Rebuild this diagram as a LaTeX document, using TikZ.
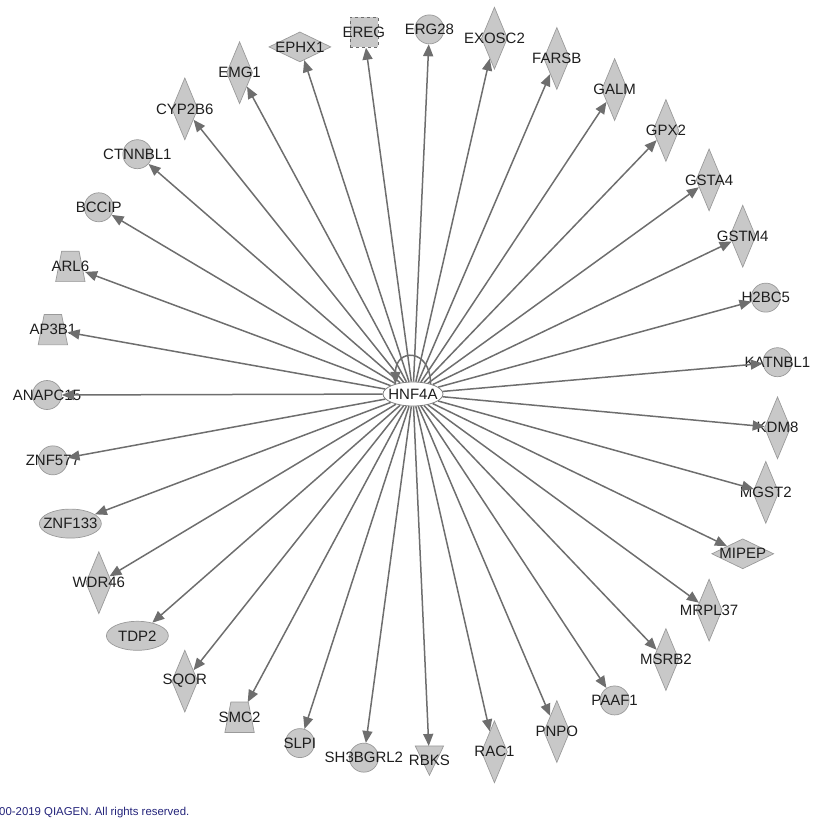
\documentclass[tikz,border=0pt]{standalone}
\usepackage{fontspec}
\setmainfont{Liberation Sans}
\usetikzlibrary{shapes.geometric,arrows.meta,calc}
\definecolor{shp}{HTML}{C8C8C8}
\definecolor{shpb}{HTML}{9A9A9A}
\definecolor{arc}{HTML}{6E6E6E}
\definecolor{txt}{HTML}{1E1E1E}
\definecolor{copyc}{HTML}{23237A}
\begin{document}
\begin{tikzpicture}[x=1pt,y=-1pt,
 base/.style={draw=shpb, fill=shp, line width=0.7pt, inner sep=0pt},
 circ/.style={base, circle, minimum size=29pt},
 ell/.style={base, ellipse, minimum width=62pt, minimum height=29pt},
 dia/.style={base, diamond, minimum width=26pt, minimum height=62pt},
 hdia/.style={base, diamond, minimum width=62pt, minimum height=30pt},
 sqr/.style={base, rectangle, dashed, draw=shpb!70!black, minimum width=28pt, minimum height=30pt},
 trap/.style={rectangle, inner sep=0pt, minimum width=29pt, minimum height=30pt},
 tri/.style={rectangle, inner sep=0pt, minimum width=28pt, minimum height=29pt},
 polyshape/.style={draw=shpb, fill=shp, line width=0.7pt},
 lbl/.style={text=txt, font=\fontsize{15}{17}\selectfont, inner sep=0pt},
 arr/.style={draw=arc, line width=1.5pt, -{Triangle[length=12pt,width=10pt]}},
]
\useasboundingbox (0,0) rectangle (812,828);
\coordinate (c) at (413,395);
\node[ellipse, draw=gray, fill=white, line width=0.8pt, minimum width=60pt, minimum height=24pt, inner sep=0pt] (hnf) at (413,394) {};
\node[lbl] (hnf-l) at (hnf) {HNF4A};
\def\nodelist{0/anapc15/circ/ANAPC15, 1/ap3b1/trap/AP3B1, 2/arl6/trap/ARL6, 3/bccip/circ/BCCIP,
 4/ctnnbl1/circ/CTNNBL1, 5/cyp2b6/dia/CYP2B6, 6/emg1/dia/EMG1, 7/ephx1/hdia/EPHX1,
 8/ereg/sqr/EREG, 9/erg28/circ/ERG28, 10/exosc2/dia/EXOSC2, 11/farsb/dia/FARSB,
 12/galm/dia/GALM, 13/gpx2/dia/GPX2, 14/gsta4/dia/GSTA4, 15/gstm4/dia/GSTM4,
 16/h2bc5/circ/H2BC5, 17/katnbl1/circ/KATNBL1, 18/kdm8/dia/KDM8, 19/mgst2/dia/MGST2,
 20/mipep/hdia/MIPEP, 21/mrpl37/dia/MRPL37, 22/msrb2/dia/MSRB2, 23/paaf1/circ/PAAF1,
 24/pnpo/dia/PNPO, 25/rac1/dia/RAC1, 26/rbks/tri/RBKS, 27/sh3bgrl2/circ/SH3BGRL2,
 28/slpi/circ/SLPI, 29/smc2/trap/SMC2, 30/sqor/dia/SQOR, 31/tdp2/ell/TDP2,
 32/wdr46/dia/WDR46, 33/znf133/ell/ZNF133, 34/znf577/circ/ZNF577}
\foreach \i/\nm/\st/\lb in \nodelist {
  \node[\st] (\nm) at ($(c)+({180-\i*360/35}:366pt)$) {};
}
\foreach \nm in {ap3b1, arl6, smc2}
  \filldraw[polyshape] ($(\nm.north west)+(6pt,0)$) -- ($(\nm.north east)+(-6pt,0)$) -- (\nm.south east) -- (\nm.south west) -- cycle;
\filldraw[polyshape] (rbks.north west) -- (rbks.north east) -- (rbks.south) -- cycle;
\foreach \i/\nm/\st/\lb in \nodelist {
  \node[lbl] (\nm-l) at (\nm) {\lb};
}
\foreach \i/\nm/\st/\lb in \nodelist {
  \draw[arr] (hnf) -- (\nm);
}
\draw[arr] (hnf.30) .. controls +(0,-36) and +(0,-36) .. (hnf.150);
\node[anchor=west, text=copyc, font=\fontsize{11.4}{13}\selectfont, inner sep=0pt] (copyr) at (-1,813) {00-2019 QIAGEN. All rights reserved.};
\end{tikzpicture}
\end{document}
